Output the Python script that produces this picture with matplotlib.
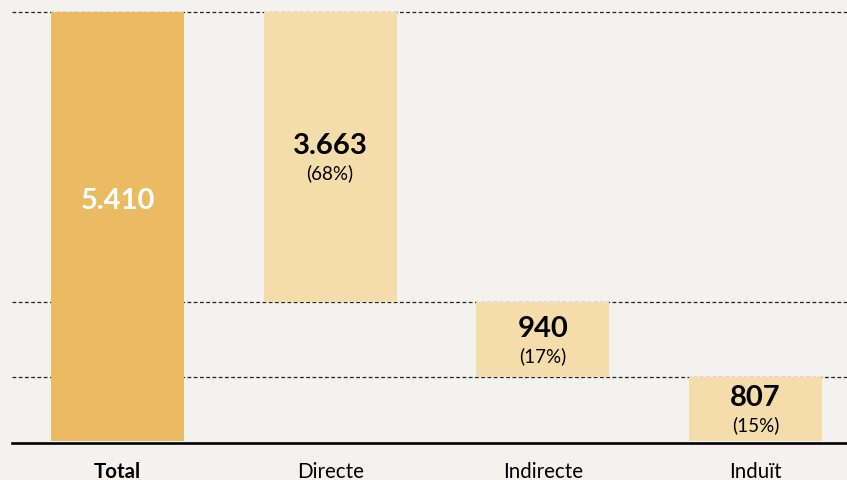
import numpy as np
import matplotlib.pyplot as plt

# ── data ──────────────────────────────────────────────────────────────
categories = ["Total", "Directe", "Indirecte", "Induït"]
values = [5410, 3663, 940, 807]
value_labels = ["5.410", "3.663", "940", "807"]
pct_labels = ["", "(68%)", "(17%)", "(15%)"]

# waterfall bottoms: total from zero, parts stacked downwards
bottoms = [0, values[0] - values[1], values[0] - values[1] - values[2], 0]

BG = "#f3f2ee"
DARK = "#ebbb63"
LIGHT = "#f5dcab"
colors = [DARK, LIGHT, LIGHT, LIGHT]

W, H = 847, 480
fig = plt.figure(figsize=(W / 100, H / 100), dpi=100, facecolor=BG)
ax = fig.add_axes([12 / W, (H - 441) / H, (847 - 12) / W, 441 / H])
ax.set_facecolor(BG)

x = np.arange(len(categories))
ax.bar(x, values, bottom=bottoms, width=0.625, color=colors, zorder=2)

ymax = values[0] * 441 / 429
ax.set_ylim(0, ymax)
ax.set_xlim(-0.496, 3.43)

# dashed reference lines at each step
for lvl in [values[0], bottoms[1], bottoms[2]]:
    ax.axhline(lvl, color="#222222", lw=0.9, ls=(0, (3, 2)), zorder=1)
ax.axhline(-ymax * 0.0035, color="black", lw=1.9, zorder=3, clip_on=False)

# labels
font = "Lato"
ax.text(x[0], values[0] * 0.56, value_labels[0], ha="center", va="center",
        color="white", fontsize=21, fontweight="bold", family=font)
for i in range(1, len(categories)):
    mid = bottoms[i] + values[i] / 2
    ax.annotate(value_labels[i], (x[i], mid), xytext=(0, 8), textcoords="offset points",
                ha="center", va="center", color="black", fontsize=21,
                fontweight="bold", family=font)
    ax.annotate(pct_labels[i], (x[i], mid), xytext=(0, -11.5), textcoords="offset points",
                ha="center", va="center", color="black", fontsize=13.5, family=font)

ax.set_xticks(x)
ax.set_xticklabels(categories, fontsize=14.8, family=font)
ax.get_xticklabels()[0].set_fontweight("bold")
ax.tick_params(axis="x", length=0, pad=15)
ax.set_yticks([])
for s in ax.spines.values():
    s.set_visible(False)

fig.savefig("out.png", dpi=100, facecolor=BG)
